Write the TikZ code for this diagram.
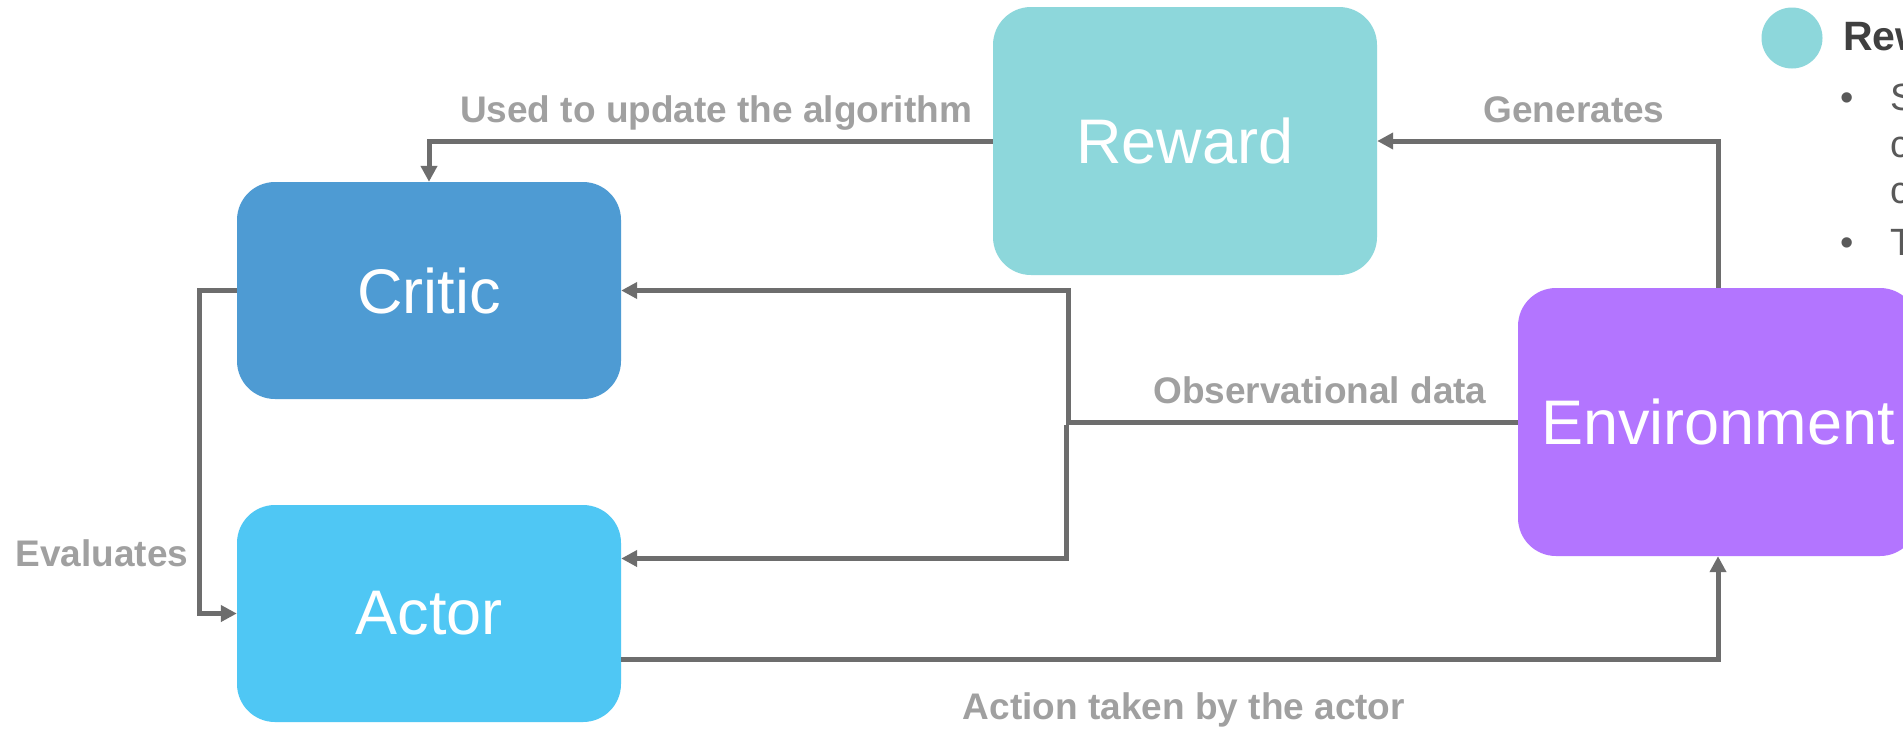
\documentclass[tikz,border=0pt]{standalone}
\usepackage{fontspec}
\setmainfont{Liberation Sans}
\usetikzlibrary{arrows.meta}

\definecolor{criticblue}{RGB}{78,155,211}
\definecolor{actorblue}{RGB}{79,199,244}
\definecolor{rewardteal}{RGB}{141,215,219}
\definecolor{envpurple}{RGB}{179,117,255}
\definecolor{linkgray}{RGB}{109,109,109}
\definecolor{labelgray}{RGB}{160,160,160}
\definecolor{legendtitle}{RGB}{64,64,64}
\definecolor{legendtext}{RGB}{89,89,89}

\begin{document}
\begin{tikzpicture}[x=1pt,y=-1pt,
  box/.style={rounded corners=38pt, inner sep=0pt, text=white,
    font=\fontsize{63}{70}\selectfont, minimum width=384pt},
  link/.style={draw=linkgray, line width=5pt,
    -{Triangle[length=16pt,width=16pt]}},
  plain/.style={draw=linkgray, line width=5pt},
  lbl/.style={text=labelgray, inner sep=0pt,
    font=\bfseries\fontsize{37}{44}\selectfont},
  legitem/.style={text=legendtext, inner sep=0pt, anchor=base west,
    font=\fontsize{38}{46}\selectfont}]

\useasboundingbox (0,0) rectangle (1903,729);
\clip (0,0) rectangle (1903,729);
\fill[white] (0,0) rectangle (1903,729);

% main blocks
\node[box, fill=criticblue, minimum height=217pt] (critic) at (429,290.5) {Critic};
\node[box, fill=actorblue, minimum height=217pt] (actor) at (429,613.5) {Actor};
\node[box, fill=rewardteal, minimum height=268pt] (reward) at (1185,141) {Reward};
\node[box, fill=envpurple, minimum height=268pt, minimum width=400pt] (env) at (1718,422) {Environment};

% ports on the actor's right side
\coordinate (actin) at ([yshift=55pt]actor.east);
\coordinate (actout) at ([yshift=-46pt]actor.east);

% reward feeds the critic
\draw[link] (reward.west) -- (reward.west -| critic.north) -- (critic.north);
% environment generates the reward
\draw[link] (env.north) -- (env.north |- reward.east) -- (reward.east);
% observations split towards critic and actor
\coordinate (junc) at (1068,422);
\coordinate (junclow) at (1066,422);
\draw[plain] (env.west) -- (junclow);
\draw[link] ([yshift=2.5pt]junc) -- (junc |- critic.east) -- (critic.east);
\draw[link] ([yshift=-2.5pt]junclow) -- (junclow |- actin) -- (actin);
% critic evaluates the actor
\draw[link] (critic.west) -- ++(-37,0) |- (actor.west);
% action goes back to the environment
\draw[link] (actout) -| (env.south);

% connector labels
\node[lbl] (lupdate) at (716,113) {Used to update the algorithm};
\node[lbl] (lgen) at (1574,110) {Generates};
\node[lbl] (lobs) at (1320,390) {Observational data};
\node[lbl] (leval) at (102,553) {Evaluates};
\node[lbl] (lact) at (1184,710) {Action taken by the actor};

% legend
\node[circle, fill=rewardteal, minimum size=61pt, inner sep=0pt] (legdot) at (1792,38) {};
\node[text=legendtitle, inner sep=0pt, anchor=base west,
  font=\bfseries\fontsize{41}{48}\selectfont] (legtitle) at (1843,50) {Reward};
\node[legitem] (b1) at (1840,110) {\textbullet};
\node[legitem] (t1) at (1890,110) {S};
\node[legitem] (t2) at (1890,157) {c};
\node[legitem] (t3) at (1890,203) {c};
\node[legitem] (b2) at (1840,255) {\textbullet};
\node[legitem] (t4) at (1890,255) {T};
\end{tikzpicture}
\end{document}
